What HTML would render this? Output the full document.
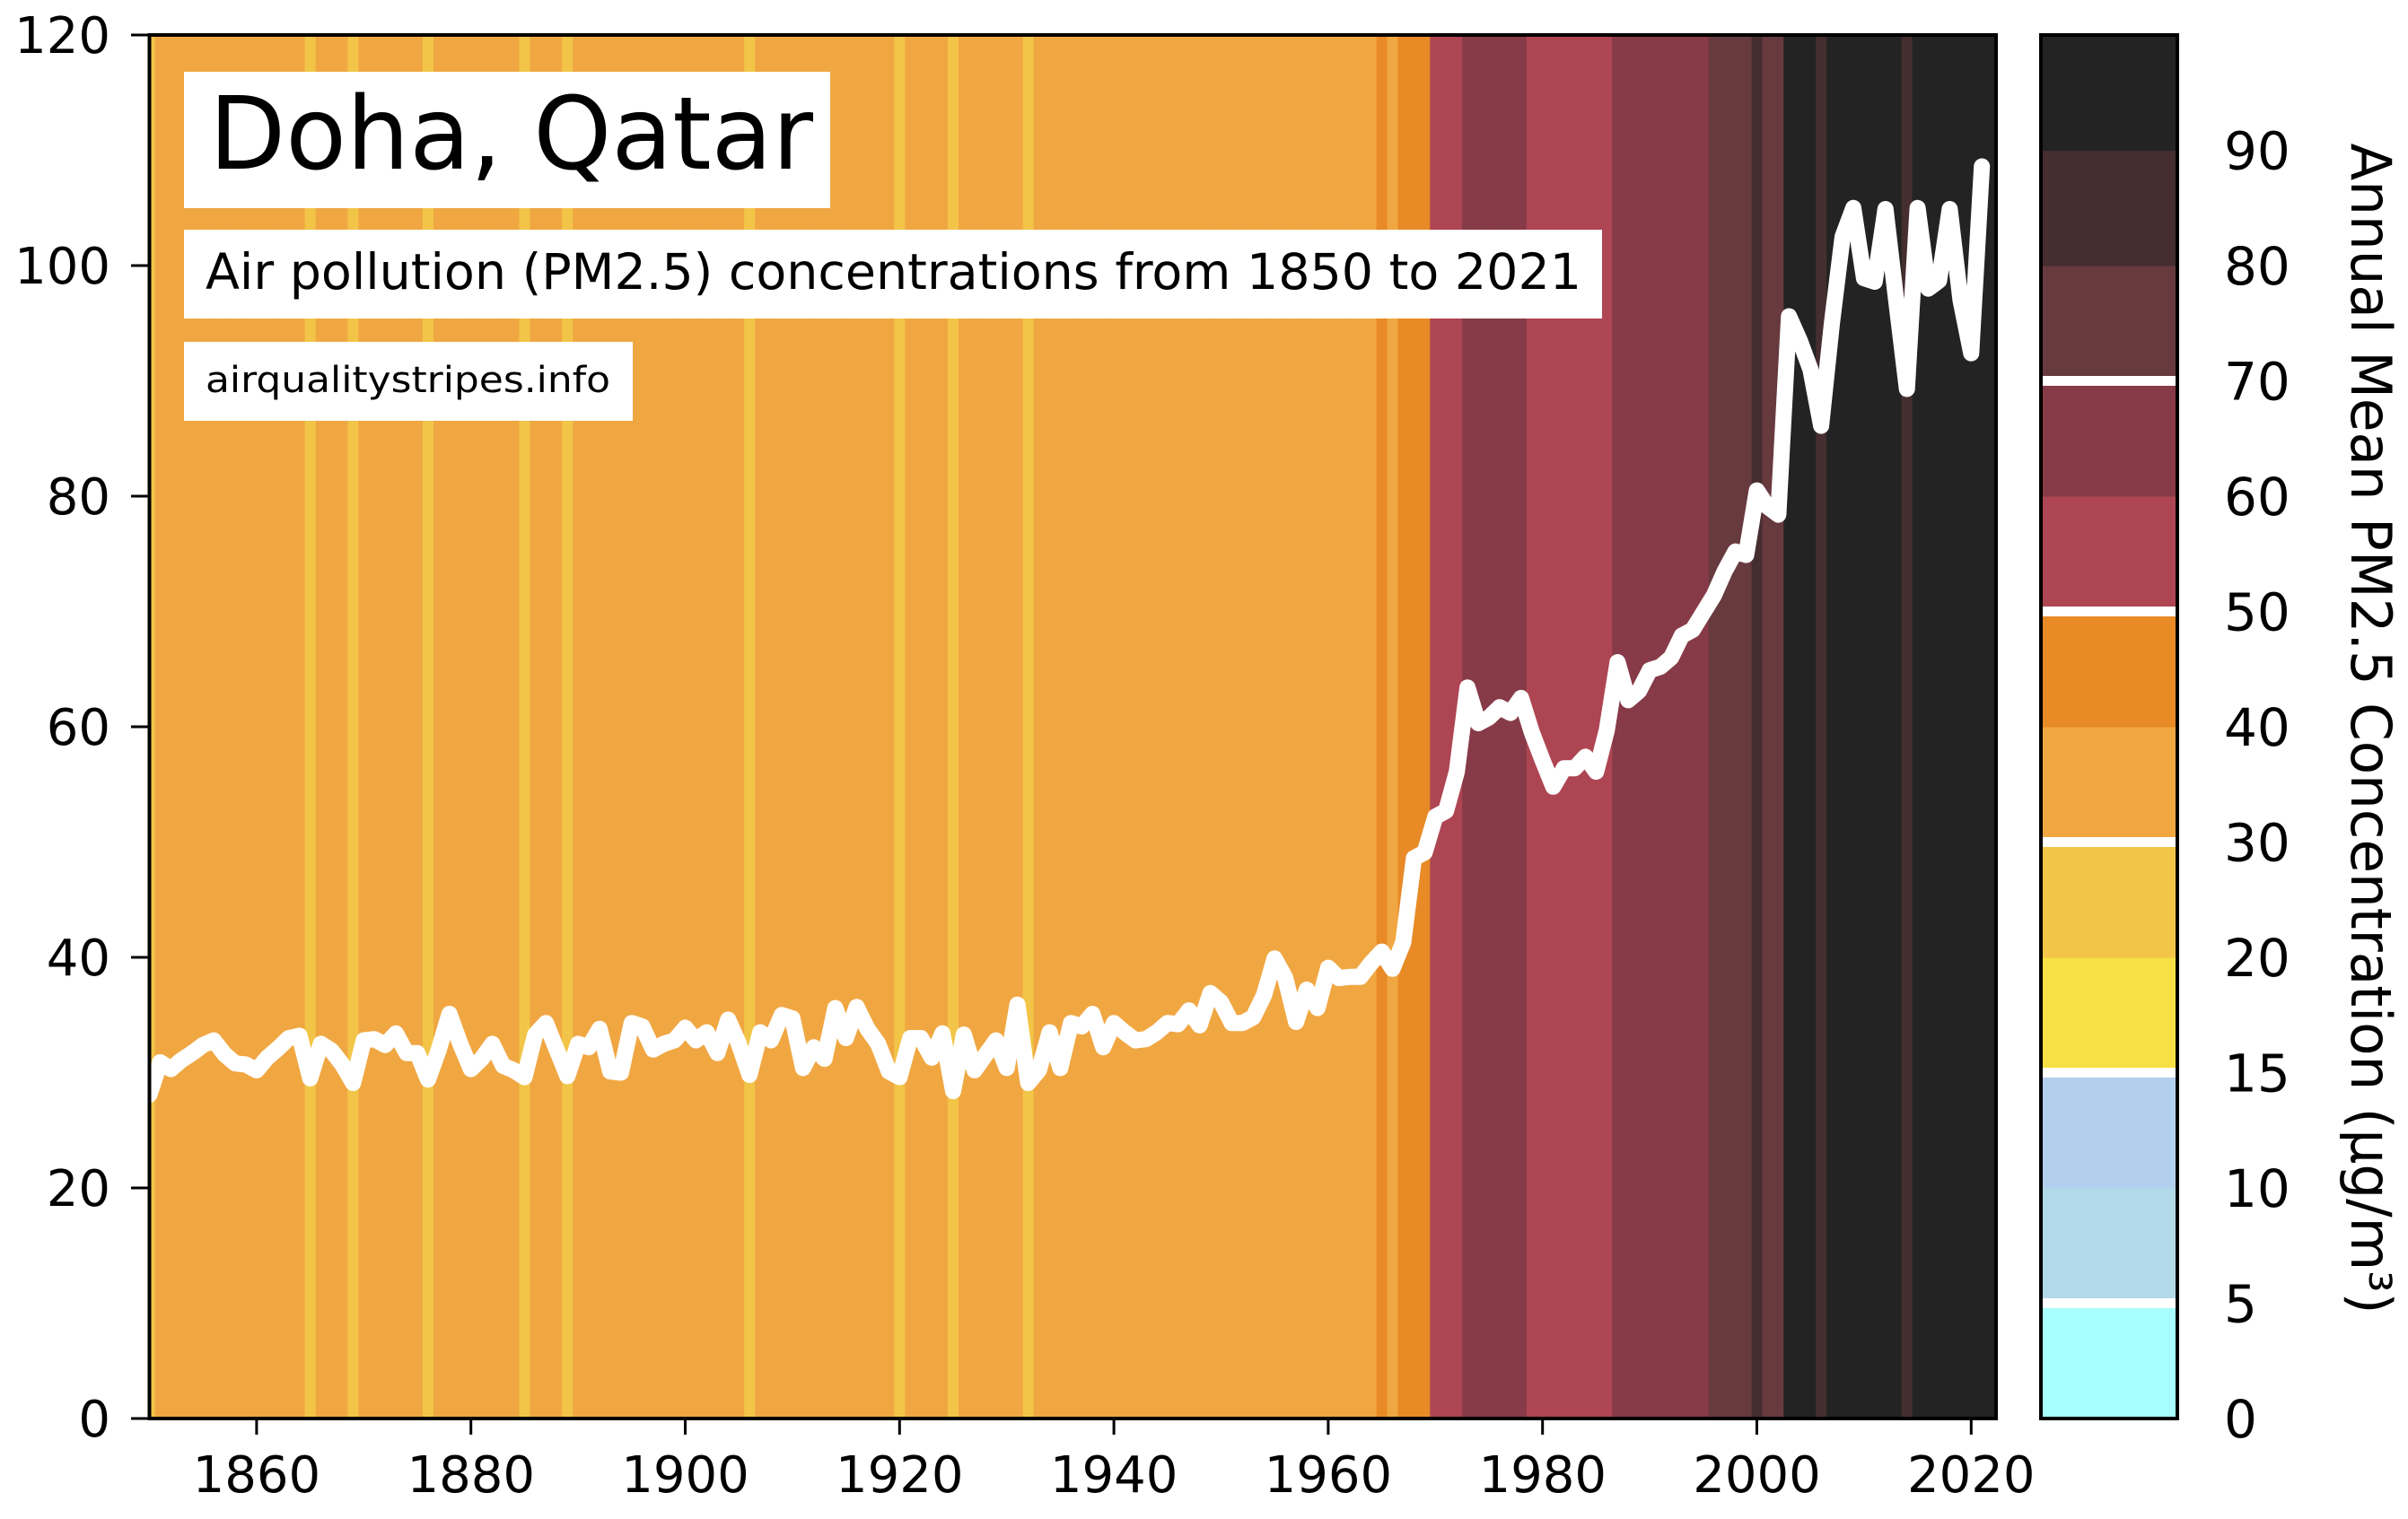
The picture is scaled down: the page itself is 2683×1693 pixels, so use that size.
<!DOCTYPE html>
<html><head><meta charset="utf-8">
<style>html,body{margin:0;padding:0;background:#fff;}svg{display:block;}text{font-family:"DejaVu Sans","Liberation Sans",sans-serif;}</style>
</head><body>
<svg id="chart" xmlns="http://www.w3.org/2000/svg" width="2683" height="1693" viewBox="0 0 2683 1693">
<defs><clipPath id="plotclip"><rect x="166.5" y="39" width="2057.5" height="1542"/></clipPath></defs>
<g id="stripes" clip-path="url(#plotclip)"></g>
<path id="line" clip-path="url(#plotclip)" fill="none" stroke="#fff" stroke-width="18" stroke-linejoin="round" stroke-linecap="round"/>
<rect x="166.5" y="39" width="2057.5" height="1542" fill="none" stroke="#000" stroke-width="4"/>
<g id="xticks"></g>
<g id="yticks"></g>

<rect x="205" y="80" width="720" height="152" fill="#fff"/>
<text x="233" y="188" font-size="112" textLength="673" lengthAdjust="spacingAndGlyphs">Doha, Qatar</text>
<rect x="205" y="256" width="1580" height="99" fill="#fff"/>
<text x="229" y="322" font-size="55" textLength="1533" lengthAdjust="spacingAndGlyphs">Air pollution (PM2.5) concentrations from 1850 to 2021</text>
<rect x="205" y="381" width="500" height="88" fill="#fff"/>
<text x="229" y="437" font-size="40" textLength="451" lengthAdjust="spacingAndGlyphs">airqualitystripes.info</text>

<g id="cbar"></g>
<text transform="translate(2620,812) rotate(90)" text-anchor="middle" font-size="62" textLength="1305" lengthAdjust="spacingAndGlyphs">Annual Mean PM2.5 Concentration (μg/m³)</text>
</svg>
<script>
const years = [];
for (let y = 1850; y <= 2021; y++) years.push(y);
const values = [
28.1,30.9,30.3,31.1,31.7,32.4,32.8,31.6,30.8,30.7,
30.2,31.3,32.1,33.0,33.2,29.5,32.5,31.9,30.7,29.1,
32.8,32.9,32.4,33.4,31.7,31.7,29.4,32.0,35.1,32.5,
30.3,31.2,32.5,30.6,30.2,29.6,33.3,34.3,32.0,29.7,
32.5,32.2,33.8,30.1,30.0,34.3,34.0,32.0,32.5,32.8,
33.9,32.8,33.5,31.7,34.6,32.5,29.8,33.5,32.8,35.0,
34.7,30.4,32.2,31.2,35.6,33.0,35.7,33.8,32.5,30.1,
29.6,33.0,33.0,31.3,33.4,28.4,33.3,30.2,31.5,32.8,
30.4,35.9,29.1,30.2,33.5,30.4,34.3,34.0,35.1,32.2,
34.3,33.5,32.8,32.9,33.5,34.3,34.2,35.4,34.1,36.9,
36.1,34.3,34.3,34.8,36.7,39.9,38.2,34.4,37.2,35.6,
39.1,38.2,38.3,38.3,39.5,40.5,39.0,41.3,48.6,49.1,
52.2,52.7,56.1,63.4,60.3,60.8,61.7,61.2,62.5,59.5,
57.1,54.8,56.4,56.4,57.4,56.1,59.7,65.6,62.3,63.1,
64.9,65.2,66.0,67.9,68.4,69.9,71.4,73.5,75.2,74.9,
80.5,79.1,78.4,95.6,93.5,91.0,86.1,95.0,102.5,105.0,
98.9,98.6,104.9,97.0,89.3,105.0,98.0,98.7,104.9,97.0,
92.4,108.6];
const binEdges = [0,5,10,15,20,30,40,50,60,70,80,90];
const binColors = ["#a6fffe","#b2d9e7","#b2cfee","#f7e043","#f2c548","#f0a742","#e88a26","#ae4553","#873a47","#673a3e","#452d30","#232323"];
const xTicks = [1860,1880,1900,1920,1940,1960,1980,2000,2020];
const yTicks = [0,20,40,60,80,100,120];
const cbarLabels = ["0","5","10","15","20","30","40","50","60","70","80","90"];
const cbarWhite = [1,3,5,7,9];

const NS = "http://www.w3.org/2000/svg";
const X0 = 166.5, PX = 11.94, Y0 = 1581, PY = 12.85;
function xs(y){ return X0 + (y - 1850) * PX; }
function ys(v){ return Y0 - v * PY; }
function bin(v){ let b = 0; for (let i = 0; i < binEdges.length; i++) if (v >= binEdges[i]) b = i; return b; }
function mk(tag, attrs){ const e = document.createElementNS(NS, tag); for (const k in attrs) e.setAttribute(k, attrs[k]); return e; }

const sg = document.getElementById('stripes');
years.forEach((yr, i) => {
  const r = mk('rect', {x: xs(yr - 0.5), y: 39, width: PX + 0.6, height: 1542, fill: binColors[bin(values[i])]});
  
  
  sg.appendChild(r);
});
// extend last stripe to the right edge
const ext = mk('rect', {x: xs(2021.5), y: 39, width: 20, height: 1542, fill: "#232323"});


sg.appendChild(ext);

document.getElementById('line').setAttribute('d', years.map((yr, i) => (i ? 'L' : 'M') + xs(yr).toFixed(1) + ' ' + ys(values[i]).toFixed(1)).join(' '));

const xg = document.getElementById('xticks');
xTicks.forEach(t => {
  const l = mk('line', {x1: xs(t), x2: xs(t), y1: 1581, y2: 1599, stroke: '#000', 'stroke-width': 3});
  
  
  xg.appendChild(l);
  const tx = mk('text', {x: xs(t), y: 1663, 'text-anchor': 'middle', 'font-size': 56});
  
  
  tx.textContent = t;
  xg.appendChild(tx);
});
const yg = document.getElementById('yticks');
yTicks.forEach(t => {
  const l = mk('line', {x1: 146, x2: 166.5, y1: ys(t), y2: ys(t), stroke: '#000', 'stroke-width': 3});
  
  
  yg.appendChild(l);
  const tx = mk('text', {x: 123, y: ys(t) + 20, 'text-anchor': 'end', 'font-size': 56});
  
  
  tx.textContent = t;
  yg.appendChild(tx);
});

const cg = document.getElementById('cbar');
const CB_X = 2274, CB_W = 152, CB_TOP = 39, CB_H = 1542, SEG = CB_H / binColors.length;
binColors.forEach((c, i) => {
  const r = mk('rect', {x: CB_X, y: CB_TOP + CB_H - (i + 1) * SEG, width: CB_W, height: SEG + 0.5, fill: c});
  
  
  cg.appendChild(r);
});
cbarWhite.forEach(i => {
  const r = mk('rect', {x: CB_X, y: CB_TOP + CB_H - i * SEG - 5.5, width: CB_W, height: 11, fill: '#fff'});
  
  
  cg.appendChild(r);
});
const fr = mk('rect', {x: CB_X, y: CB_TOP, width: CB_W, height: CB_H, fill: 'none', stroke: '#000', 'stroke-width': 4});


cg.appendChild(fr);
cbarLabels.forEach((lab, i) => {
  const tx = mk('text', {x: 2478, y: CB_TOP + CB_H - i * SEG + 21, 'font-size': 58});
  
  
  tx.textContent = lab;
  cg.appendChild(tx);
});
</script>
</body></html>
